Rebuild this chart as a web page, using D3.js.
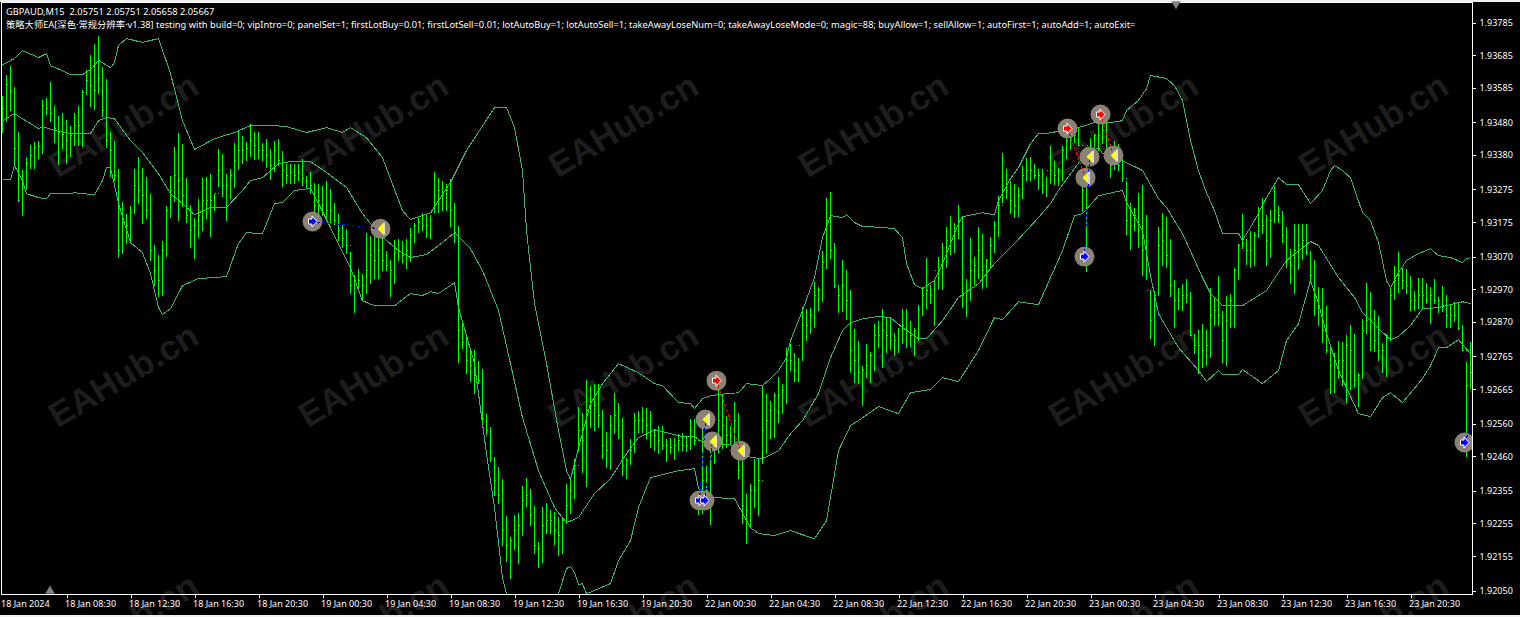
<!DOCTYPE html>
<html><head><meta charset="utf-8">
<style>
html,body{margin:0;padding:0;background:#f0f0f0;overflow:hidden}
svg{display:block}
text{font-family:"Noto Sans",sans-serif}
</style>
<script src="https://cdn.jsdelivr.net/npm/d3@7/dist/d3.min.js"></script>
</head><body><svg id="c" width="1520" height="617"></svg>
<script>
const symbolTitle = "GBPAUD,M15  2.05751 2.05751 2.05658 2.05667";
const eaTitle = "策略大师EA[深色·常规分辨率·v1.38] testing with build=0; vipIntro=0; panelSet=1; firstLotBuy=0.01; firstLotSell=0.01; lotAutoBuy=1; lotAutoSell=1; takeAwayLoseNum=0; takeAwayLoseMode=0; magic=88; buyAllow=1; sellAllow=1; autoFirst=1; autoAdd=1; autoExit=";
const watermark = "EAHub.cn";
const priceTicks = [1.93785,1.93685,1.93585,1.93480,1.93380,1.93275,1.93175,1.93070,1.92970,1.92870,1.92765,1.92665,1.92560,1.92460,1.92355,1.92255,1.92155,1.92050];
const timeTickBars = [0,16,32,48,64,80,96,112,128,144,160,176,192,208,224,240,256,272,288,304,320,336,352];
const timeTickLabels = ["18 Jan 2024","18 Jan 08:30","18 Jan 12:30","18 Jan 16:30","18 Jan 20:30","19 Jan 00:30","19 Jan 04:30","19 Jan 08:30","19 Jan 12:30","19 Jan 16:30","19 Jan 20:30","22 Jan 00:30","22 Jan 04:30","22 Jan 08:30","22 Jan 12:30","22 Jan 16:30","22 Jan 20:30","23 Jan 00:30","23 Jan 04:30","23 Jan 08:30","23 Jan 12:30","23 Jan 16:30","23 Jan 20:30"];

const highs = [1.93559,1.93626,1.93653,1.93589,1.93452,1.93333,1.93375,1.93412,1.93421,1.93424,1.93547,1.93553,1.93602,1.93531,1.93498,1.93510,1.93488,1.93470,1.93510,1.93531,1.93580,1.93641,1.93687,1.93718,1.93745,1.93650,1.93611,1.93452,1.93424,1.93339,1.93238,1.93201,1.93226,1.93339,1.93375,1.93342,1.93314,1.93262,1.93104,1.93076,1.93119,1.93223,1.93317,1.93406,1.93446,1.93415,1.93311,1.93229,1.93189,1.93247,1.93311,1.93314,1.93323,1.93262,1.93400,1.93382,1.93323,1.93339,1.93418,1.93458,1.93437,1.93421,
1.93476,1.93449,1.93449,1.93418,1.93430,1.93400,1.93424,1.93430,1.93394,1.93354,1.93354,1.93354,1.93354,1.93369,1.93317,1.93327,1.93296,1.93293,1.93287,1.93302,1.93275,1.93235,1.93201,1.93171,1.93155,1.93085,1.93015,1.93033,1.93018,1.93143,1.93134,1.93140,1.93143,1.93158,1.93088,1.93061,1.93122,1.93125,1.93119,1.93125,1.93158,1.93174,1.93189,1.93204,1.93198,1.93198,1.93327,1.93311,1.93302,1.93293,1.93308,1.93235,1.93162,1.92865,1.92829,1.92789,1.92786,1.92752,1.92728,1.92590,1.92548,1.92459,1.92428,1.92392,1.92279,1.92214,1.92282,1.92288,1.92370,1.92395,1.92361,1.92309,1.92199,1.92306,1.92318,1.92297,1.92291,1.92273,1.92276,1.92376,1.92392,1.92453,1.92609,1.92593,1.92694,1.92676,1.92682,1.92682,1.92602,1.92535,1.92587,1.92654,1.92624,1.92578,1.92456,1.92514,1.92593,1.92599,1.92609,1.92606,1.92599,1.92544,1.92554,1.92554,1.92514,1.92517,1.92517,1.92529,1.92532,1.92523,1.92575,1.92575,1.92334,1.92569,1.92431,1.92493,1.92508,1.92682,1.92651,1.92584,1.92554,1.92627,1.92593,1.92456,1.92346,1.92376,1.92453,1.92453,1.92676,1.92651,1.92630,1.92654,1.92703,1.92682,1.92792,1.92804,1.92774,1.92761,1.92917,1.92911,1.92914,1.92992,1.92977,1.93088,1.93250,1.93268,1.93110,1.92980,1.93061,1.93030,1.92969,1.92850,1.92813,1.92737,1.92804,1.92780,1.92865,1.92874,1.92911,1.92884,1.92881,1.92838,1.92853,1.92911,1.92911,1.92874,1.92853,1.92923,1.92978,1.93067,1.92984,1.93003,1.93070,1.93110,1.93159,1.93195,1.93174,1.93229,1.93195,1.93003,1.93128,1.93070,1.93159,1.93140,1.93064,1.93131,1.93180,1.93256,1.93385,1.93336,1.93302,1.93293,1.93281,1.93348,1.93372,1.93375,1.93354,1.93339,1.93339,1.93314,1.93409,1.93363,1.93342,1.93409,1.93464,1.93485,1.93464,1.93467,1.93342,1.93372,1.93433,1.93443,1.93482,1.93488,1.93495,1.93388,1.93424,1.93415,1.93378,1.93302,1.93235,1.93217,1.93265,1.93290,1.93198,1.92966,1.92966,1.93159,1.93204,1.93192,1.93125,1.92997,1.92975,1.92987,1.93000,1.92963,1.92835,1.92847,1.92865,1.92847,1.92975,1.92945,1.93012,1.92905,1.92951,1.92957,1.93036,1.93107,1.93201,1.93125,1.93149,1.93146,1.93220,1.93250,1.93198,1.93213,1.93287,1.93226,1.93210,1.93159,1.93094,1.93168,1.93171,1.93171,1.93171,1.93088,1.93061,1.92978,1.92975,1.92920,1.92795,1.92774,1.92813,1.92810,1.92829,1.92862,1.92832,1.92715,1.92880,1.92990,1.92963,1.92908,1.92890,1.92807,1.92835,1.92975,1.93042,1.93085,1.93036,1.93033,1.93012,1.92966,1.93006,1.93006,1.92990,1.92978,1.93000,1.92948,1.92981,1.92954,1.92923,1.92932,1.92929,1.92862,1.92749,1.92810];

const lows = [1.93446,1.93482,1.93516,1.93351,1.93238,1.93195,1.93272,1.93339,1.93339,1.93369,1.93382,1.93501,1.93482,1.93418,1.93351,1.93400,1.93354,1.93375,1.93409,1.93409,1.93406,1.93565,1.93528,1.93519,1.93568,1.93495,1.93403,1.93314,1.93302,1.93067,1.93079,1.93107,1.93110,1.93201,1.93232,1.93171,1.93186,1.93055,1.92981,1.92945,1.92951,1.93070,1.93189,1.93238,1.93180,1.93220,1.93174,1.93097,1.93064,1.93128,1.93149,1.93186,1.93131,1.93210,1.93281,1.93253,1.93180,1.93247,1.93278,1.93333,1.93354,1.93363,
1.93375,1.93366,1.93369,1.93363,1.93342,1.93305,1.93327,1.93348,1.93281,1.93293,1.93293,1.93293,1.93302,1.93287,1.93278,1.93262,1.93183,1.93180,1.93195,1.93180,1.93174,1.93165,1.93119,1.93097,1.93079,1.92957,1.92899,1.92975,1.92935,1.92957,1.92987,1.93003,1.93003,1.93027,1.93027,1.92945,1.92987,1.93058,1.93049,1.93033,1.93052,1.93110,1.93143,1.93149,1.93128,1.93125,1.93204,1.93204,1.93210,1.93210,1.93159,1.93110,1.92746,1.92789,1.92712,1.92688,1.92651,1.92682,1.92563,1.92526,1.92444,1.92340,1.92315,1.92187,1.92138,1.92086,1.92175,1.92132,1.92218,1.92306,1.92248,1.92163,1.92120,1.92135,1.92224,1.92224,1.92190,1.92156,1.92160,1.92254,1.92285,1.92331,1.92477,1.92410,1.92367,1.92547,1.92538,1.92547,1.92453,1.92425,1.92419,1.92529,1.92514,1.92401,1.92392,1.92434,1.92471,1.92532,1.92532,1.92514,1.92486,1.92477,1.92468,1.92480,1.92441,1.92468,1.92450,1.92477,1.92477,1.92474,1.92480,1.92493,1.92282,1.92285,1.92303,1.92251,1.92437,1.92471,1.92483,1.92486,1.92493,1.92502,1.92392,1.92254,1.92193,1.92242,1.92303,1.92279,1.92437,1.92468,1.92514,1.92517,1.92563,1.92590,1.92621,1.92722,1.92688,1.92688,1.92752,1.92813,1.92832,1.92853,1.92905,1.92932,1.93033,1.93064,1.92975,1.92899,1.92902,1.92877,1.92715,1.92685,1.92682,1.92615,1.92700,1.92685,1.92722,1.92792,1.92731,1.92774,1.92786,1.92767,1.92774,1.92804,1.92792,1.92795,1.92767,1.92813,1.92890,1.92911,1.92926,1.92859,1.92972,1.92969,1.93036,1.93076,1.93082,1.93125,1.92914,1.92884,1.92935,1.92984,1.93000,1.92972,1.92978,1.93036,1.93082,1.93131,1.93235,1.93247,1.93201,1.93189,1.93192,1.93247,1.93302,1.93302,1.93308,1.93272,1.93262,1.93253,1.93293,1.93290,1.93287,1.93302,1.93369,1.93397,1.93418,1.93409,1.93207,1.93024,1.93378,1.93378,1.93394,1.93415,1.93385,1.93311,1.93333,1.93330,1.93299,1.93137,1.93091,1.93149,1.93097,1.93012,1.92997,1.92819,1.92798,1.92951,1.93042,1.93036,1.92945,1.92853,1.92908,1.92905,1.92929,1.92826,1.92771,1.92712,1.92731,1.92737,1.92761,1.92859,1.92859,1.92746,1.92737,1.92853,1.92853,1.92997,1.93094,1.93045,1.93036,1.93042,1.93128,1.93140,1.93042,1.93067,1.93174,1.93174,1.93110,1.93036,1.92987,1.92957,1.93030,1.93061,1.93076,1.92990,1.92887,1.92859,1.92807,1.92774,1.92651,1.92654,1.92697,1.92676,1.92624,1.92661,1.92673,1.92609,1.92697,1.92835,1.92783,1.92777,1.92752,1.92715,1.92703,1.92813,1.92938,1.92960,1.92972,1.92957,1.92905,1.92905,1.92911,1.92911,1.92926,1.92865,1.92926,1.92899,1.92902,1.92853,1.92853,1.92871,1.92847,1.92783,1.92459,1.92667];

const closes = [1.93522,1.93595,1.93574,1.93400,1.93241,1.93302,1.93354,1.93378,1.93403,1.93406,1.93531,1.93522,1.93507,1.93461,1.93449,1.93443,1.93424,1.93440,1.93470,1.93470,1.93571,1.93608,1.93592,1.93577,1.93614,1.93516,1.93424,1.93394,1.93317,1.93088,1.93174,1.93165,1.93204,1.93287,1.93272,1.93256,1.93210,1.93088,1.93027,1.92997,1.93088,1.93210,1.93272,1.93317,1.93302,1.93256,1.93195,1.93149,1.93165,1.93195,1.93241,1.93241,1.93241,1.93262,1.93333,1.93287,1.93287,1.93317,1.93363,1.93394,1.93394,1.93400,
1.93424,1.93409,1.93394,1.93394,1.93378,1.93348,1.93394,1.93363,1.93333,1.93317,1.93327,1.93317,1.93327,1.93308,1.93302,1.93287,1.93226,1.93241,1.93226,1.93210,1.93210,1.93180,1.93149,1.93125,1.93104,1.92981,1.92997,1.92997,1.92981,1.93027,1.93073,1.93058,1.93088,1.93058,1.93042,1.93027,1.93082,1.93088,1.93073,1.93088,1.93134,1.93165,1.93174,1.93165,1.93165,1.93204,1.93256,1.93272,1.93256,1.93272,1.93210,1.93143,1.92844,1.92807,1.92752,1.92737,1.92706,1.92691,1.92575,1.92538,1.92453,1.92386,1.92340,1.92233,1.92187,1.92202,1.92233,1.92248,1.92324,1.92340,1.92279,1.92187,1.92178,1.92248,1.92263,1.92263,1.92233,1.92218,1.92263,1.92309,1.92355,1.92431,1.92538,1.92508,1.92599,1.92615,1.92615,1.92584,1.92493,1.92477,1.92554,1.92584,1.92554,1.92431,1.92447,1.92477,1.92569,1.92569,1.92569,1.92554,1.92523,1.92523,1.92508,1.92493,1.92493,1.92486,1.92493,1.92508,1.92493,1.92493,1.92538,1.92508,1.92309,1.92386,1.92355,1.92462,1.92477,1.92569,1.92554,1.92523,1.92523,1.92569,1.92416,1.92309,1.92294,1.92355,1.92355,1.92386,1.92538,1.92569,1.92599,1.92645,1.92645,1.92661,1.92752,1.92752,1.92722,1.92798,1.92859,1.92859,1.92890,1.92951,1.92966,1.93052,1.93180,1.93088,1.92981,1.92951,1.92981,1.92935,1.92783,1.92752,1.92715,1.92722,1.92737,1.92767,1.92829,1.92829,1.92844,1.92829,1.92813,1.92813,1.92859,1.92859,1.92844,1.92829,1.92844,1.92905,1.92951,1.92966,1.92951,1.93027,1.93027,1.93058,1.93119,1.93119,1.93149,1.93180,1.92951,1.92966,1.93027,1.93042,1.93088,1.93027,1.93058,1.93104,1.93165,1.93226,1.93287,1.93272,1.93241,1.93226,1.93256,1.93317,1.93333,1.93333,1.93317,1.93317,1.93287,1.93333,1.93333,1.93317,1.93333,1.93394,1.93424,1.93440,1.93440,1.93409,1.93272,1.93409,1.93409,1.93440,1.93440,1.93455,1.93385,1.93348,1.93378,1.93348,1.93308,1.93180,1.93165,1.93195,1.93149,1.93088,1.92966,1.92874,1.92951,1.93104,1.93119,1.93073,1.92981,1.92935,1.92935,1.92951,1.92951,1.92829,1.92798,1.92798,1.92783,1.92798,1.92890,1.92905,1.92890,1.92813,1.92874,1.92935,1.93027,1.93104,1.93110,1.93088,1.93088,1.93134,1.93165,1.93165,1.93119,1.93180,1.93210,1.93195,1.93134,1.93058,1.93042,1.93088,1.93104,1.93119,1.93082,1.93012,1.92935,1.92920,1.92844,1.92783,1.92737,1.92752,1.92752,1.92752,1.92798,1.92783,1.92691,1.92706,1.92844,1.92874,1.92874,1.92813,1.92783,1.92783,1.92829,1.92951,1.92997,1.93012,1.92997,1.92981,1.92935,1.92935,1.92951,1.92951,1.92935,1.92951,1.92935,1.92935,1.92920,1.92890,1.92890,1.92890,1.92850,1.92783,1.92676,1.92715];

const opens = [1.93510,1.93522,1.93595,1.93574,1.93400,1.93241,1.93302,1.93354,1.93378,1.93403,1.93406,1.93531,1.93522,1.93507,1.93461,1.93449,1.93443,1.93424,1.93440,1.93470,1.93470,1.93571,1.93608,1.93592,1.93577,1.93614,1.93516,1.93424,1.93394,1.93317,1.93088,1.93174,1.93165,1.93204,1.93287,1.93272,1.93256,1.93210,1.93088,1.93027,1.92997,1.93088,1.93210,1.93272,1.93317,1.93302,1.93256,1.93195,1.93149,1.93165,1.93195,1.93241,1.93241,1.93241,1.93262,1.93333,1.93287,1.93287,1.93317,1.93363,1.93394,1.93394,
1.93400,1.93424,1.93409,1.93394,1.93394,1.93378,1.93348,1.93394,1.93363,1.93333,1.93317,1.93327,1.93317,1.93327,1.93308,1.93302,1.93287,1.93226,1.93241,1.93226,1.93210,1.93210,1.93180,1.93149,1.93125,1.93104,1.92981,1.92997,1.92997,1.92981,1.93027,1.93073,1.93058,1.93088,1.93058,1.93042,1.93027,1.93082,1.93088,1.93073,1.93088,1.93134,1.93165,1.93174,1.93165,1.93165,1.93204,1.93256,1.93272,1.93256,1.93272,1.93210,1.93143,1.92844,1.92807,1.92752,1.92737,1.92706,1.92691,1.92575,1.92538,1.92453,1.92386,1.92340,1.92233,1.92187,1.92202,1.92233,1.92248,1.92324,1.92340,1.92279,1.92187,1.92178,1.92248,1.92263,1.92263,1.92233,1.92218,1.92263,1.92309,1.92355,1.92431,1.92538,1.92508,1.92599,1.92615,1.92615,1.92584,1.92493,1.92477,1.92554,1.92584,1.92554,1.92431,1.92447,1.92477,1.92569,1.92569,1.92569,1.92554,1.92523,1.92523,1.92508,1.92493,1.92493,1.92486,1.92493,1.92508,1.92493,1.92493,1.92538,1.92508,1.92309,1.92386,1.92355,1.92462,1.92477,1.92569,1.92554,1.92523,1.92523,1.92569,1.92416,1.92309,1.92294,1.92355,1.92355,1.92386,1.92538,1.92569,1.92599,1.92645,1.92645,1.92661,1.92752,1.92752,1.92722,1.92798,1.92859,1.92859,1.92890,1.92951,1.92966,1.93052,1.93180,1.93088,1.92981,1.92951,1.92981,1.92935,1.92783,1.92752,1.92715,1.92722,1.92737,1.92767,1.92829,1.92829,1.92844,1.92829,1.92813,1.92813,1.92859,1.92859,1.92844,1.92829,1.92844,1.92905,1.92951,1.92966,1.92951,1.93027,1.93027,1.93058,1.93119,1.93119,1.93149,1.93180,1.92951,1.92966,1.93027,1.93042,1.93088,1.93027,1.93058,1.93104,1.93165,1.93226,1.93287,1.93272,1.93241,1.93226,1.93256,1.93317,1.93333,1.93333,1.93317,1.93317,1.93287,1.93333,1.93333,1.93317,1.93333,1.93394,1.93424,1.93440,1.93440,1.93409,1.93272,1.93409,1.93409,1.93440,1.93440,1.93455,1.93385,1.93348,1.93378,1.93348,1.93308,1.93180,1.93165,1.93195,1.93149,1.93088,1.92966,1.92874,1.92951,1.93104,1.93119,1.93073,1.92981,1.92935,1.92935,1.92951,1.92951,1.92829,1.92798,1.92798,1.92783,1.92798,1.92890,1.92905,1.92890,1.92813,1.92874,1.92935,1.93027,1.93104,1.93110,1.93088,1.93088,1.93134,1.93165,1.93165,1.93119,1.93180,1.93210,1.93195,1.93134,1.93058,1.93042,1.93088,1.93104,1.93119,1.93082,1.93012,1.92935,1.92920,1.92844,1.92783,1.92737,1.92752,1.92752,1.92752,1.92798,1.92783,1.92691,1.92706,1.92844,1.92874,1.92874,1.92813,1.92783,1.92783,1.92829,1.92951,1.92997,1.93012,1.92997,1.92981,1.92935,1.92935,1.92951,1.92951,1.92935,1.92951,1.92935,1.92935,1.92920,1.92890,1.92890,1.92890,1.92850,1.92783,1.92676];

const upperBars = [0,3,5,9,11,12,15,17,20,22,24,27,28,29,31,35,39,42,45,48,53,58,62,68,71,76,81,85,87,91,95,100,102,107,112,116,123,126,128,130,131,133,136,139,141,142,144,147,150,154,159,163,165,169,172,173,175,177,181,184,186,190,192,194,196,197,200,203,205,207,210,211,213,215,220,223,225,226,228,230,233,235,239,240,245,248,249,252,254,257,259,261,265,269,273,275,280,281,284,286,287,291,293,295,297,299,301,303,305,309,310,313,316,319,321,324,327,330,332,333,335,337,340,342,344,346,347,349,351,354,357,359,362,365,366,367];
const upperBand = [1.93656,1.93675,1.93699,1.93678,1.93690,1.93653,1.93638,1.93626,1.93626,1.93641,1.93669,1.93647,1.93663,1.93715,1.93736,1.93724,1.93736,1.93629,1.93485,1.93397,1.93430,1.93449,1.93470,1.93470,1.93467,1.93449,1.93464,1.93449,1.93464,1.93433,1.93372,1.93210,1.93183,1.93204,1.93296,1.93394,1.93525,1.93525,1.93464,1.93333,1.93149,1.92926,1.92743,1.92538,1.92416,1.92389,1.92486,1.92621,1.92682,1.92743,1.92715,1.92682,1.92676,1.92624,1.92621,1.92606,1.92636,1.92645,1.92651,1.92654,1.92682,1.92676,1.92697,1.92722,1.92761,1.92813,1.92905,1.93006,1.93128,1.93195,1.93189,1.93198,1.93174,1.93162,1.93159,1.93155,1.93128,1.93049,1.92984,1.92972,1.92997,1.93049,1.93171,1.93192,1.93204,1.93198,1.93241,1.93308,1.93342,1.93415,1.93446,1.93446,1.93455,1.93464,1.93479,1.93476,1.93485,1.93516,1.93547,1.93583,1.93623,1.93614,1.93592,1.93547,1.93424,1.93333,1.93265,1.93210,1.93140,1.93140,1.93119,1.93180,1.93250,1.93311,1.93290,1.93290,1.93232,1.93272,1.93333,1.93348,1.93333,1.93311,1.93204,1.93180,1.93113,1.92997,1.92975,1.93021,1.93058,1.93079,1.93094,1.93073,1.93067,1.93052,1.93064,1.93067];

const middleBars = [0,3,5,9,10,13,17,22,24,26,28,32,35,39,42,45,48,52,56,60,62,65,69,72,77,81,86,90,94,99,102,106,110,113,115,117,120,124,127,130,134,138,141,144,148,152,156,159,163,165,170,173,177,179,183,187,190,194,197,200,204,207,210,212,215,219,222,225,229,231,235,239,244,248,253,259,262,264,267,270,274,275,280,285,289,291,295,300,302,305,310,316,321,327,329,334,338,340,344,347,349,352,355,359,362,365,367];
const middleBand = [1.93485,1.93507,1.93491,1.93461,1.93467,1.93455,1.93446,1.93446,1.93485,1.93495,1.93491,1.93424,1.93388,1.93323,1.93262,1.93232,1.93198,1.93220,1.93220,1.93272,1.93302,1.93311,1.93354,1.93360,1.93360,1.93327,1.93281,1.93201,1.93140,1.93088,1.93067,1.93076,1.93113,1.93143,1.93119,1.93094,1.93027,1.92905,1.92743,1.92578,1.92416,1.92303,1.92257,1.92273,1.92346,1.92392,1.92468,1.92517,1.92541,1.92535,1.92520,1.92520,1.92486,1.92499,1.92493,1.92456,1.92453,1.92477,1.92529,1.92569,1.92651,1.92761,1.92844,1.92868,1.92880,1.92887,1.92884,1.92853,1.92819,1.92819,1.92874,1.92945,1.92987,1.93049,1.93110,1.93189,1.93232,1.93272,1.93323,1.93372,1.93403,1.93385,1.93363,1.93333,1.93247,1.93220,1.93140,1.93006,1.92957,1.92920,1.92920,1.92966,1.93058,1.93116,1.93104,1.93006,1.92945,1.92899,1.92850,1.92816,1.92826,1.92859,1.92911,1.92914,1.92923,1.92932,1.92926];

const lowerBars = [0,2,3,5,6,9,11,12,17,18,23,25,26,27,29,32,35,37,39,40,42,45,49,53,56,59,61,65,68,70,73,77,79,87,90,93,98,102,105,107,109,113,114,118,121,123,125,126,128,132,136,139,141,142,143,144,145,146,152,154,157,159,162,165,169,173,174,177,183,187,189,193,197,203,206,209,212,214,219,224,227,232,235,239,244,248,250,254,259,262,265,268,270,274,280,281,285,287,289,290,294,299,301,304,305,309,310,315,319,321,324,327,329,331,334,339,342,345,347,350,355,357,359,361,364,367];
const lowerBand = [1.93305,1.93305,1.93348,1.93302,1.93262,1.93250,1.93247,1.93262,1.93262,1.93265,1.93259,1.93302,1.93342,1.93342,1.93232,1.93113,1.93082,1.93018,1.92914,1.92893,1.92911,1.92981,1.93003,1.93006,1.93009,1.93110,1.93143,1.93140,1.93232,1.93235,1.93272,1.93278,1.93232,1.93036,1.92935,1.92920,1.92920,1.92957,1.92951,1.92963,1.92957,1.92990,1.92914,1.92743,1.92468,1.92303,1.92089,1.92040,1.91988,1.91943,1.91982,1.92040,1.92117,1.92123,1.92105,1.92068,1.92071,1.92040,1.92071,1.92141,1.92202,1.92303,1.92395,1.92404,1.92416,1.92422,1.92361,1.92334,1.92331,1.92242,1.92224,1.92218,1.92233,1.92208,1.92263,1.92477,1.92554,1.92569,1.92612,1.92590,1.92654,1.92664,1.92700,1.92688,1.92783,1.92884,1.92877,1.92932,1.92923,1.93006,1.93088,1.93195,1.93201,1.93256,1.93272,1.93235,1.93149,1.93012,1.92896,1.92874,1.92792,1.92722,1.92688,1.92722,1.92709,1.92709,1.92725,1.92682,1.92722,1.92813,1.92865,1.92997,1.92926,1.92835,1.92722,1.92590,1.92581,1.92639,1.92654,1.92624,1.92697,1.92737,1.92792,1.92792,1.92816,1.92774];

const tradeBar =   [77.5,94.5,174.25,175.5,175.75,177.5,178.5,184.5,266.25,274.5,271.75,270.75,277.75,270.5,365.5];
const tradePrice = [1.93177,1.93155,1.92325,1.92325,1.92572,1.92505,1.92691,1.92477,1.93461,1.93504,1.93375,1.93311,1.93379,1.93070,1.92502];
const tradeKind =  ["buy","close","buy","buy","close","close","sell","close","sell","sell","close","close","close","buy","buy"];
const linkFrom = [0,2,3,6,8,9,13,14];
const linkTo =   [1,4,5,7,11,12,10,14];
const linkColor = ["#0000ff","#0000ff","#0000ff","#ff0000","#ff0000","#ff0000","#0000ff","#0000ff"];

const svg=d3.select("#c");
const W=1520,H=617,L=1.5,R=1472.5,T=2.5,B=594.5;
const x=d3.scaleLinear().domain([0,367]).range([2.5,1470.5]);
const y=d3.scaleLinear().domain([1.92050,1.93785]).range([590.5,22.5]);
const GREEN="#00ff00",BAND="#3cb371";

svg.append("rect").attr("x",0).attr("y",2).attr("width",W).attr("height",613).attr("fill","#000");
svg.append("clipPath").attr("id","plot").append("rect").attr("x",L).attr("y",T).attr("width",R-L).attr("height",B-T);
svg.append("clipPath").attr("id","black").append("rect").attr("x",0).attr("y",2).attr("width",W).attr("height",613);

// watermark
const wmCols=[123,373,623,873,1123,1373],wmRows=[125,375,625];
const wm=svg.append("g").attr("clip-path","url(#black)");
wmRows.forEach(r=>wmCols.forEach(c=>wm.append("text").text(watermark)
  .attr("transform",`translate(${c},${r}) rotate(-31)`).attr("text-anchor","middle").attr("dy","0.35em")
  .attr("fill","#1d1d1d").style("font-family","'Liberation Sans',sans-serif").style("font-weight","700").style("font-size","35px")));

const plot=svg.append("g").attr("clip-path","url(#plot)");

// bollinger bands
const line=d3.line().x(d=>x(d[0])).y(d=>y(d[1]));
[[upperBars,upperBand],[middleBars,middleBand],[lowerBars,lowerBand]].forEach(([b,v])=>{
  plot.append("path").datum(b.map((k,i)=>[k,v[i]])).attr("d",line).attr("fill","none")
    .attr("stroke",BAND).attr("stroke-width",1).attr("shape-rendering","crispEdges");
});

// OHLC bars
const idx=d3.range(highs.length);
const bars=plot.append("g").attr("stroke",GREEN).attr("stroke-width",1).attr("shape-rendering","crispEdges");
bars.selectAll("line.hl").data(idx).join("line").attr("class","hl")
  .attr("x1",i=>x(i)).attr("x2",i=>x(i)).attr("y1",i=>y(highs[i])).attr("y2",i=>y(lows[i]));
bars.selectAll("line.o").data(idx).join("line").attr("class","o")
  .attr("x1",i=>x(i)-1).attr("x2",i=>x(i)).attr("y1",i=>y(opens[i])).attr("y2",i=>y(opens[i]));
bars.selectAll("line.c").data(idx).join("line").attr("class","c")
  .attr("x1",i=>x(i)).attr("x2",i=>x(i)+1).attr("y1",i=>y(closes[i])).attr("y2",i=>y(closes[i]));

// trades
const tr=d3.range(tradeBar.length);
plot.selectAll("circle.t").data(tr).join("circle").attr("class","t")
  .attr("cx",i=>x(tradeBar[i])).attr("cy",i=>y(tradePrice[i])).attr("r",10).attr("fill","#8c8274");
plot.selectAll("line.link").data(linkFrom.map((f,i)=>i)).join("line").attr("class","link")
  .attr("x1",i=>x(tradeBar[linkFrom[i]])).attr("y1",i=>y(tradePrice[linkFrom[i]]))
  .attr("x2",i=>linkTo[i]===linkFrom[i]?R:x(tradeBar[linkTo[i]]))
  .attr("y2",i=>linkTo[i]===linkFrom[i]?y(1.92560):y(tradePrice[linkTo[i]]))
  .attr("stroke",i=>linkColor[i]).attr("stroke-width",1).attr("stroke-dasharray","3,2").attr("shape-rendering","crispEdges");
const arrow="M-4,-2.5H-0.5V-5.5L4.5,0L-0.5,5.5V2.5H-4Z";
tr.forEach(i=>{
  const g=plot.append("g").attr("transform",`translate(${x(tradeBar[i])},${y(tradePrice[i])})`);
  if(tradeKind[i]==="close"){
    g.append("path").attr("d","M-3,0L2.5,-5.5V5.5Z").attr("fill","#ffff00");
    g.append("path").attr("d","M3.5,-6V6").attr("stroke","#fff").attr("stroke-width",1.5);
  } else {
    g.append("path").attr("d",arrow).attr("fill",tradeKind[i]==="buy"?"#0000ff":"#ff0000").attr("stroke","#fff").attr("stroke-width",1);
  }
});

// frame
svg.append("path").attr("d",`M${L},${B}V${T}H${R}`).attr("fill","none").attr("stroke","#fff").attr("stroke-width",1).attr("shape-rendering","crispEdges");

// axes
const yAxis=d3.axisRight(y).tickValues(priceTicks).tickFormat(d3.format(".5f")).tickSize(3).tickPadding(4);
const gy=svg.append("g").attr("transform",`translate(${R},0)`).call(yAxis);
const xAxis=d3.axisBottom(x).tickValues(timeTickBars).tickFormat((d,i)=>timeTickLabels[i]).tickSize(3).tickPadding(3);
const gx=svg.append("g").attr("transform",`translate(0,${B})`).call(xAxis);
gy.select(".domain").attr("d",`M0,${T}V${B}`).attr("stroke","#fff").attr("shape-rendering","crispEdges");
gx.select(".domain").attr("d",`M${L},0H${R}`).attr("stroke","#fff").attr("shape-rendering","crispEdges");
[gx,gy].forEach(g=>{
  g.selectAll(".tick line").attr("stroke","#fff").attr("shape-rendering","crispEdges");
  g.selectAll("text").attr("fill","#fff").style("font-family","'Noto Sans',sans-serif").style("font-size","9px");
  g.attr("font-family",null).attr("font-size",null);
});
gx.selectAll("text").attr("text-anchor","start").attr("dx","-2");
gx.select(".tick line").attr("stroke","none");

// shift markers
svg.append("path").attr("d",d3.symbol(d3.symbolTriangle,40)()).attr("transform","translate(1176,4) rotate(180)").attr("fill","#808080");
svg.append("path").attr("d",d3.symbol(d3.symbolTriangle,40)()).attr("transform","translate(50,591)").attr("fill","#808080");

// header
svg.append("text").text(symbolTitle).attr("x",6).attr("y",15).attr("fill","#fff")
  .style("white-space","pre").style("font-size","9.3px");
svg.append("text").text(eaTitle).attr("x",6).attr("y",28).attr("fill","#fff").style("font-size","9.3px")
  .style("font-family","'Noto Sans','Noto Sans CJK SC',sans-serif");
</script></body></html>
